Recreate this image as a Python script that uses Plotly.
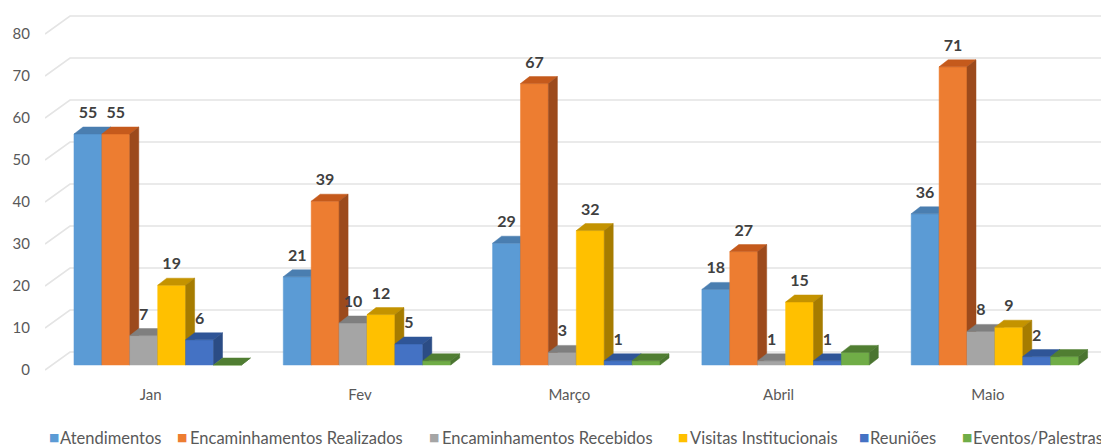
import plotly.graph_objects as go

# ---------------- data ----------------
months = ["Jan", "Fev", "Março", "Abril", "Maio"]
atendimentos = [55, 21, 29, 18, 36]
enc_realizados = [55, 39, 67, 27, 71]
enc_recebidos = [7, 10, 3, 1, 8]
visitas = [19, 12, 32, 15, 9]
reunioes = [6, 5, 1, 1, 2]
eventos = [0, 1, 1, 3, 2]
y_ticks = [0, 10, 20, 30, 40, 50, 60, 70, 80]

series = [
    ("Atendimentos", atendimentos, ("#5B9BD5", "#4A7EB0", "#3F6E9A"), True),
    ("Encaminhamentos Realizados", enc_realizados, ("#ED7D31", "#C55A1C", "#9C4A1C"), True),
    ("Encaminhamentos Recebidos", enc_recebidos, ("#A5A5A5", "#7F7F7F", "#6E6E6E"), True),
    ("Visitas Institucionais", visitas, ("#FFC000", "#C49300", "#A67C00"), True),
    ("Reuniões", reunioes, ("#4472C4", "#2F5597", "#2B4C85"), True),
    ("Eventos/Palestras", eventos, ("#70AD47", "#507E32", "#4A7530"), False),
]

# ---------------- geometry (reference pixel coords, page has 8px body margin) ----------------
OFF = 8
W, H = 1109 - OFF, 447 - OFF
PLOT_L_REF, PLOT_R_REF, PLOT_T_REF, PLOT_B_REF = 45, 1106, 8, 372
ML = PLOT_L_REF - OFF
MR = W - (PLOT_R_REF - OFF)
MT = PLOT_T_REF - OFF
MB = H - (PLOT_B_REF - OFF)
PX_X = 209.3          # pixels per category unit
CAT0_PX = 157.7       # reference pixel centre of first category
PX_Y = 4.2            # pixels per value unit
ZERO_PX = 365         # reference pixel (from top) of value 0
plot_h = PLOT_B_REF - PLOT_T_REF
x0 = (PLOT_L_REF - CAT0_PX) / PX_X
x1 = (PLOT_R_REF - CAT0_PX) / PX_X
y0 = -(PLOT_B_REF - ZERO_PX) / PX_Y
y1 = y0 + plot_h / PX_Y

bw = 0.8 / 6                 # bar width in category units
DX = 9 / PX_X                # depth offset x
DY = 7 / PX_Y                # depth offset y

fig = go.Figure()

# back wall gridlines with slanted left edge
gx, gy = [], []
for v in y_ticks:
    gx += [x0, x0 + 25 / PX_X, x1, None]
    gy += [v - 5 / PX_Y, v + 13 / PX_Y, v + 13 / PX_Y, None]
fig.add_trace(go.Scatter(x=gx, y=gy, mode="lines", line=dict(color="#E4E4E4", width=1.6),
                         hoverinfo="skip", showlegend=False))

label_x, label_y, label_t = [], [], []
for k, (name, vals, (cf, ct, cs), lab) in enumerate(series):
    fx, fy, tx, ty, sx, sy = [], [], [], [], [], []
    for c, v in enumerate(vals):
        L = c - 0.4 + k * bw
        R = L + bw
        fx += [L, R, R, L, L, None]
        fy += [0, 0, v, v, 0, None]
        tx += [L, R, R + DX, L + DX, L, None]
        ty += [v, v, v + DY, v + DY, v, None]
        sx += [R, R + DX, R + DX, R, R, None]
        sy += [0, DY, v + DY, v, 0, None]
        if lab:
            label_x.append(L + bw / 2)
            label_y.append(v + 20 / PX_Y)
            label_t.append(str(v))
    fig.add_trace(go.Scatter(x=fx, y=fy, fill="toself", fillcolor=cf, mode="lines",
                             line=dict(color=cf, width=0.5), name=name, showlegend=False,
                             hoverinfo="skip"))
    fig.add_trace(go.Scatter(x=tx, y=ty, fill="toself", fillcolor=ct, mode="lines",
                             line=dict(color=ct, width=0.5), showlegend=False, hoverinfo="skip"))
    fig.add_trace(go.Scatter(x=sx, y=sy, fill="toself", fillcolor=cs, mode="lines",
                             line=dict(color=cs, width=0.5), showlegend=False, hoverinfo="skip"))

fig.add_trace(go.Scatter(x=label_x, y=label_y, text=label_t, mode="text",
                         textposition="middle center",
                         textfont=dict(family="Lato", size=16, color="#404040", weight="bold"),
                         cliponaxis=False, showlegend=False, hoverinfo="skip"))

# legend built from annotations (reference pixel positions of marker and text)
legend_pos = [(48, 59), (176, 189), (428, 441), (677, 689), (858, 869), (961, 972)]
pw = PLOT_R_REF - PLOT_L_REF
annotations = []
for (name, vals, (cf, ct, cs), lab), (mx, tx_) in zip(series, legend_pos):
    annotations.append(dict(x=(mx - PLOT_L_REF) / pw, y=(PLOT_B_REF - 437) / plot_h,
                            xref="paper", yref="paper", borderpad=0,
                            text="■", showarrow=False, xanchor="left", yanchor="middle",
                            font=dict(family="DejaVu Sans", size=11, color=cf)))
    annotations.append(dict(x=(tx_ - PLOT_L_REF) / pw, y=(PLOT_B_REF - 438) / plot_h,
                            xref="paper", yref="paper", borderpad=0,
                            text=name, showarrow=False, xanchor="left", yanchor="middle",
                            font=dict(family="Lato", size=16.5, color="#595959")))

fig.update_layout(
    width=W, height=H,
    margin=dict(l=ML, r=MR, t=MT, b=MB),
    paper_bgcolor="white", plot_bgcolor="white",
    showlegend=False,
    annotations=annotations,
    xaxis=dict(range=[x0, x1], tickmode="array", tickvals=list(range(len(months))),
               ticktext=months, showgrid=False, zeroline=False, showline=False, ticks="",
               tickfont=dict(family="Lato", size=15, color="#595959"),
               ticklabelshift=-7, ticklabelstandoff=12, fixedrange=True),
    yaxis=dict(range=[y0, y1], tickmode="array", tickvals=y_ticks, showgrid=False,
               zeroline=False, showline=False, ticks="",
               tickfont=dict(family="Lato", size=15, color="#595959"),
               ticklabelshift=5, ticklabelstandoff=14, fixedrange=True),
)

fig.write_html("out.html")
